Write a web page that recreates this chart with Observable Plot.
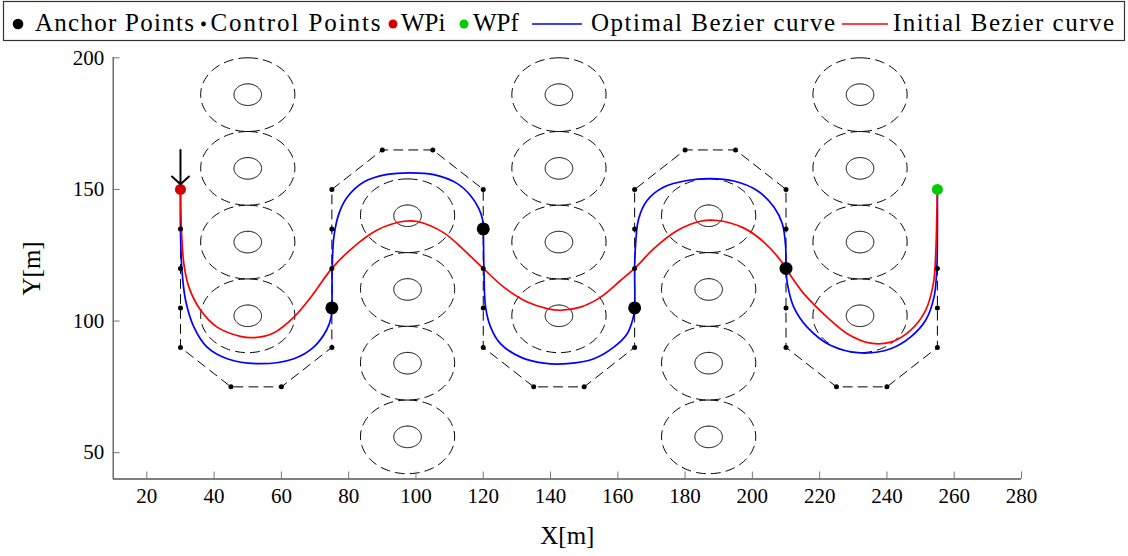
<!DOCTYPE html>
<html>
<head>
<meta charset="utf-8">
<script src="https://cdn.jsdelivr.net/npm/d3@7"></script>
<script src="https://cdn.jsdelivr.net/npm/@observablehq/plot@0.6"></script>
<style>
  html, body { margin: 0; padding: 0; background: #fff; }
  #legend svg, #chart svg { display: block; }
  svg, svg text { font-family: "Liberation Serif", "Times New Roman", serif !important; }
</style>
</head>
<body>
<div id="legend"></div>
<div id="chart"></div>
<script>
// ---------------- DATA ----------------
const xDomain = [10, 280];
const yDomain = [40, 200];
const xTicks = [20, 40, 60, 80, 100, 120, 140, 160, 180, 200, 220, 240, 260, 280];
const yTicks = [50, 100, 150, 200];
const xLabel = "X[m]";
const yLabel = "Y[m]";

// obstacle columns (centres) and radii
const obstacleColumnsX = [50, 97.5, 142.5, 187, 232];
const obstacleRowsY = [
  [186, 158, 130, 102],
  [140, 112, 84, 56],
  [186, 158, 130, 102],
  [140, 112, 84, 56],
  [186, 158, 130, 102]
];
const innerRadius = 4.1;
const outerRadius = 14;

// control polygon, in order (type: wpi, wpf, anchor, control)
const polygonX = [30, 30, 30, 30, 30, 45, 60, 75, 75, 75, 75, 75, 90, 105, 120, 120, 120, 120, 120, 135, 150, 165, 165, 165, 165, 165, 180, 195, 210, 210, 210, 210, 210, 225, 240, 255, 255, 255, 255];
const polygonY = [150, 135, 120, 105, 90, 75, 75, 90, 105, 120, 135, 150, 165, 165, 150, 135, 120, 105, 90, 75, 75, 90, 105, 120, 135, 150, 165, 165, 150, 135, 120, 105, 90, 75, 75, 90, 105, 120, 150];
const polygonType = ["wpi", "c", "c", "c", "c", "c", "c", "c", "a", "c", "c", "c", "c", "c", "c", "a", "c", "c", "c", "c", "c", "c", "a", "c", "c", "c", "c", "c", "c", "c", "a", "c", "c", "c", "c", "c", "c", "c", "wpf"];

// Optimal Bezier curve (blue)
const optimalX = [30, 30, 30.4, 31.5, 34.0, 37.9, 43.9, 53.8, 63.7, 69.6, 73.4, 74.7, 75, 75.1, 75.6, 77.1, 79.6, 84.5, 91.5, 98.4, 105.3, 112.3, 116.2, 118.7, 119.8, 120, 120.2, 120.7, 122.2, 125.1, 131.1, 138, 145, 152.9, 158.8, 162.8, 164.5, 165, 165, 165.3, 166.2, 168.7, 173.7, 180.6, 187.6, 194.5, 201.4, 206.4, 208.9, 209.9, 210, 210.4, 212.3, 216.3, 223.2, 232.1, 241.1, 247, 251.5, 254, 254.8, 255, 255];
const optimalY = [150, 135, 120, 108, 97.7, 90.1, 85.7, 83.8, 85.7, 90.1, 96.5, 101, 105, 120, 132, 140.8, 147.1, 152.8, 155.7, 156.3, 155.6, 152.2, 147.7, 142.7, 138.5, 135, 120, 105.3, 97.7, 91.4, 86.3, 84, 83.8, 85.7, 90.1, 95.2, 100.9, 105, 120, 129.4, 138.9, 145.8, 150.9, 153.4, 154.1, 153.2, 149.6, 143.3, 137, 128.1, 120, 114.2, 105.3, 97.7, 90.8, 87.9, 89.5, 93.9, 100.3, 109.1, 119.2, 131.9, 150];

// Initial Bezier curve (red)
const initialX = [30, 30.3, 31.0, 32.5, 36, 40.9, 47.8, 51.8, 57.7, 63.7, 69.3, 75, 81.5, 88.5, 96.4, 100.4, 108.3, 114.2, 120, 126.1, 133.1, 139, 143, 148.9, 154.9, 160.8, 165, 170.7, 177.7, 184.6, 189.6, 197.5, 203.4, 208.4, 210, 215.3, 222.2, 228.2, 235.1, 241.1, 247, 251.5, 253.8, 254.5, 254.8, 255];
const initialY = [150, 134.4, 121.8, 112.9, 104.1, 97.7, 94.2, 93.7, 95.5, 101.5, 110, 120, 128.2, 134.6, 137.9, 137.8, 133.5, 127, 120, 112.9, 107.2, 104.7, 104.1, 105.3, 109.1, 115.4, 120, 127.5, 134.4, 137.9, 138.2, 135.3, 130, 123, 119.9, 110.4, 101.5, 95.2, 91.6, 92, 96.5, 104.1, 114.2, 125.6, 138.2, 150];

// arrow pointing at the initial waypoint
const arrowFrom = [30, 165];
const arrowTo = [30, 152];

// legend entries
const legendLabels = ["Anchor Points", "Control Points", "WPi", "WPf", "Optimal Bezier curve", "Initial Bezier curve"];
const colors = {wpi: "#d40000", wpf: "#00cc00", optimal: "#0000ff", initial: "#ff0000"};

// ---------------- BUILD TABLES ----------------
function circleTable(r) {
  const rows = [];
  obstacleColumnsX.forEach((cx, i) => {
    obstacleRowsY[i].forEach((cy, j) => {
      for (let a = 0; a < 360; a += 3) {
        const t = (a + 90) * Math.PI / 180;
        rows.push({id: `${i}-${j}`, x: cx + r * Math.cos(t), y: cy + r * Math.sin(t)});
      }
    });
  });
  return rows;
}
const outerCircles = circleTable(outerRadius);
const innerCircles = circleTable(innerRadius);

const polygon = polygonX.map((x, i) => ({x, y: polygonY[i], type: polygonType[i]}));
const optimal = optimalX.map((x, i) => ({x, y: optimalY[i]}));
const initial = initialX.map((x, i) => ({x, y: initialY[i]}));

const FONT = "Liberation Serif, Times New Roman, serif";

// ---------------- LEGEND ----------------
(function legend() {
  const W = 1128, H = 42;
  const svg = d3.select("#legend").append("svg").attr("width", W).attr("height", H)
    .attr("font-family", FONT).attr("font-size", 25);
  svg.append("rect").attr("x", 3.5).attr("y", 1.5).attr("width", 1121).attr("height", 39)
    .attr("fill", "none").attr("stroke", "#333").attr("stroke-width", 1.2);
  const cy = 24, ty = 31;
  const items = [
    {sym: "dot", r: 5.3, fill: "#000", sx: 18, tx: 35, tw: 159},
    {sym: "dot", r: 2.4, fill: "#000", sx: 203.5, tx: 210.5, tw: 170},
    {sym: "dot", r: 4.5, fill: colors.wpi, sx: 393, tx: 401, tw: null},
    {sym: "dot", r: 4.5, fill: colors.wpf, sx: 464, tx: 473, tw: null},
    {sym: "line", stroke: colors.optimal, sx: 532, ex: 582, tx: 591, tw: 244},
    {sym: "line", stroke: colors.initial, sx: 842, ex: 888, tx: 893, tw: 221}
  ];
  items.forEach((it, i) => {
    if (it.sym === "dot") {
      svg.append("circle").attr("cx", it.sx).attr("cy", cy).attr("r", it.r).attr("fill", it.fill);
    } else {
      svg.append("line").attr("x1", it.sx).attr("x2", it.ex).attr("y1", cy).attr("y2", cy)
        .attr("stroke", it.stroke).attr("stroke-width", 1.6);
    }
    const t = svg.append("text").attr("x", it.tx).attr("y", ty).text(legendLabels[i]);
    if (it.tw) t.attr("textLength", it.tw).attr("lengthAdjust", "spacing");
  });
})();

// ---------------- CHART ----------------
const dash = "9,6";
const chart = Plot.plot({
  width: 1128,
  height: 514,
  marginLeft: 112.7,
  marginRight: 107,
  marginTop: 15.3,
  marginBottom: 77.5,
  x: {domain: xDomain},
  y: {domain: yDomain},
  style: {fontFamily: FONT, fontSize: "21px", color: "#000", background: "transparent"},
  marks: [
    Plot.line(outerCircles, {x: "x", y: "y", z: "id", curve: "linear-closed", stroke: "#000", strokeWidth: 1, strokeDasharray: dash}),
    Plot.line(innerCircles, {x: "x", y: "y", z: "id", curve: "linear-closed", stroke: "#000", strokeWidth: 1}),
    Plot.line(polygon, {x: "x", y: "y", stroke: "#000", strokeWidth: 1, strokeDasharray: dash}),
    Plot.line(optimal, {x: "x", y: "y", curve: "catmull-rom", stroke: colors.optimal, strokeWidth: 1.7}),
    Plot.line(initial, {x: "x", y: "y", curve: "catmull-rom", stroke: colors.initial, strokeWidth: 1.7}),
    Plot.dot(polygon.filter(d => d.type === "c"), {x: "x", y: "y", r: 2.5, fill: "#000"}),
    Plot.dot(polygon.filter(d => d.type === "a"), {x: "x", y: "y", r: 6.5, fill: "#000"}),
    Plot.dot(polygon.filter(d => d.type === "wpi"), {x: "x", y: "y", r: 5.5, fill: colors.wpi}),
    Plot.dot(polygon.filter(d => d.type === "wpf"), {x: "x", y: "y", r: 5.5, fill: colors.wpf}),
    Plot.arrow([{x1: arrowFrom[0], y1: arrowFrom[1], x2: arrowTo[0], y2: arrowTo[1]}],
      {x1: "x1", y1: "y1", x2: "x2", y2: "y2", stroke: "#000", strokeWidth: 2, headLength: 10, headAngle: 96}),
    Plot.ruleX([xDomain[0]], {stroke: "#555", strokeWidth: 1.3}),
    Plot.ruleY([yDomain[0]], {stroke: "#555", strokeWidth: 1.3}),
    // inward tick marks
    Plot.axisX({ticks: xTicks, tickSize: 7, dy: -7, tickFormat: () => "", label: null, stroke: "#777"}),
    Plot.axisY({ticks: yTicks, tickSize: 7, dx: 7, tickFormat: () => "", label: null, stroke: "#777"}),
    // tick labels and axis titles
    Plot.axisX({ticks: xTicks, tickSize: 0, tickPadding: 9, label: xLabel, labelAnchor: "center", labelOffset: 65, labelArrow: "none"}),
    Plot.axisY({ticks: yTicks, tickSize: 0, tickPadding: 9, label: yLabel, labelAnchor: "center", labelOffset: 91, labelArrow: "none"})
  ]
});
document.getElementById("chart").appendChild(chart);
d3.select(chart).selectAll('g[aria-label="x-axis label"] text, g[aria-label="y-axis label"] text').style("font-size", "25px");
</script>
</body>
</html>
